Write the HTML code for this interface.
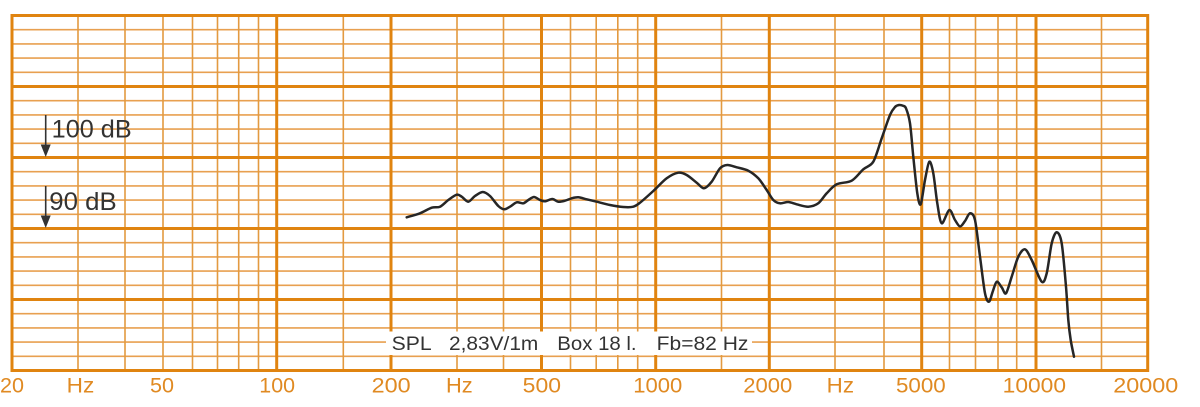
<!DOCTYPE html>
<html>
<head>
<meta charset="utf-8">
<style>
html,body{margin:0;padding:0;background:#fff;}
svg{display:block;}
text{font-family:"Liberation Sans",Arial,sans-serif;}
</style>
</head>
<body>
<svg id="chart" width="1200" height="407" viewBox="0 0 1200 407" xmlns="http://www.w3.org/2000/svg">
<rect x="0" y="0" width="1200" height="407" fill="#fff"/>
<!-- thin horizontal lines -->
<g stroke="#e8a050" stroke-width="1.6" fill="none">
<line x1="12" x2="1148" y1="29.7" y2="29.7"/>
<line x1="12" x2="1148" y1="43.9" y2="43.9"/>
<line x1="12" x2="1148" y1="58.1" y2="58.1"/>
<line x1="12" x2="1148" y1="72.3" y2="72.3"/>
<line x1="12" x2="1148" y1="100.7" y2="100.7"/>
<line x1="12" x2="1148" y1="114.9" y2="114.9"/>
<line x1="12" x2="1148" y1="129.1" y2="129.1"/>
<line x1="12" x2="1148" y1="143.3" y2="143.3"/>
<line x1="12" x2="1148" y1="171.7" y2="171.7"/>
<line x1="12" x2="1148" y1="185.9" y2="185.9"/>
<line x1="12" x2="1148" y1="200.1" y2="200.1"/>
<line x1="12" x2="1148" y1="214.3" y2="214.3"/>
<line x1="12" x2="1148" y1="242.7" y2="242.7"/>
<line x1="12" x2="1148" y1="256.9" y2="256.9"/>
<line x1="12" x2="1148" y1="271.1" y2="271.1"/>
<line x1="12" x2="1148" y1="285.3" y2="285.3"/>
<line x1="12" x2="1148" y1="313.7" y2="313.7"/>
<line x1="12" x2="1148" y1="327.9" y2="327.9"/>
<line x1="12" x2="1148" y1="342.1" y2="342.1"/>
<line x1="12" x2="1148" y1="356.3" y2="356.3"/>
</g>
<!-- thin vertical lines -->
<g stroke="#e39a40" stroke-width="1.6" fill="none">
<line y1="15.5" y2="370.5" x1="78" x2="78"/>
<line y1="15.5" y2="370.5" x1="125" x2="125"/>
<line y1="15.5" y2="370.5" x1="163" x2="163"/>
<line y1="15.5" y2="370.5" x1="192.5" x2="192.5"/>
<line y1="15.5" y2="370.5" x1="217.5" x2="217.5"/>
<line y1="15.5" y2="370.5" x1="238.7" x2="238.7"/>
<line y1="15.5" y2="370.5" x1="258.5" x2="258.5"/>
<line y1="15.5" y2="370.5" x1="343.3" x2="343.3"/>
<line y1="15.5" y2="370.5" x1="457" x2="457"/>
<line y1="15.5" y2="370.5" x1="503.5" x2="503.5"/>
<line y1="15.5" y2="370.5" x1="570.5" x2="570.5"/>
<line y1="15.5" y2="370.5" x1="596.2" x2="596.2"/>
<line y1="15.5" y2="370.5" x1="617.8" x2="617.8"/>
<line y1="15.5" y2="370.5" x1="637.7" x2="637.7"/>
<line y1="15.5" y2="370.5" x1="721.5" x2="721.5"/>
<line y1="15.5" y2="370.5" x1="835" x2="835"/>
<line y1="15.5" y2="370.5" x1="884" x2="884"/>
<line y1="15.5" y2="370.5" x1="949.5" x2="949.5"/>
<line y1="15.5" y2="370.5" x1="975.5" x2="975.5"/>
<line y1="15.5" y2="370.5" x1="998" x2="998"/>
<line y1="15.5" y2="370.5" x1="1016.7" x2="1016.7"/>
<line y1="15.5" y2="370.5" x1="1101.5" x2="1101.5"/>
</g>
<!-- thick lines -->
<g stroke="#e08410" stroke-width="3" fill="none">
<line x1="12" x2="1148" y1="86.5" y2="86.5"/>
<line x1="12" x2="1148" y1="157.5" y2="157.5"/>
<line x1="12" x2="1148" y1="228.5" y2="228.5"/>
<line x1="12" x2="1148" y1="299.5" y2="299.5"/>
<line y1="15.5" y2="370.5" x1="276.7" x2="276.7"/>
<line y1="15.5" y2="370.5" x1="391" x2="391"/>
<line y1="15.5" y2="370.5" x1="541.5" x2="541.5"/>
<line y1="15.5" y2="370.5" x1="655.7" x2="655.7"/>
<line y1="15.5" y2="370.5" x1="769.3" x2="769.3"/>
<line y1="15.5" y2="370.5" x1="921.7" x2="921.7"/>
<line y1="15.5" y2="370.5" x1="1036" x2="1036"/>
<rect x="12" y="15.5" width="1135.7" height="355" />
</g>
<!-- legend box -->
<rect x="386" y="331.5" width="366" height="23.5" fill="#fff"/>
<g fill="#333" font-size="19">
<text x="391.7" y="350" textLength="40" lengthAdjust="spacingAndGlyphs">SPL</text>
<text x="449" y="350" textLength="89.3" lengthAdjust="spacingAndGlyphs">2,83V/1m</text>
<text x="557.3" y="350" textLength="79.3" lengthAdjust="spacingAndGlyphs">Box 18 l.</text>
<text x="656.7" y="350" textLength="91.7" lengthAdjust="spacingAndGlyphs">Fb=82 Hz</text>
</g>
<!-- curve -->
<polyline id="curve" fill="none" stroke="#262626" stroke-width="2.5" stroke-linejoin="round" stroke-linecap="round"
points="406.7,217.3 420,213.3 431.7,207.7 440,206.7 448.3,200 456.7,194.7 461.7,196.7 468.3,201.7 475,196 482.7,192 490,196 498.3,206 504.3,209.3 510,206.7 516.7,202.3 523.3,203.3 528.3,200 534,197 540,200 545,201.3 552.3,199 558.3,201.7 565,200.7 571.7,198.3 578.3,197.3 586.7,199.3 596.7,201.7 610,205 623.3,207 633.3,206.7 640,202.7 653.3,191 666.7,178.3 678.3,172.7 686.7,175 696.7,182.7 704,188.3 711.7,181.7 720,168.3 727.3,165 736.7,167.3 748.3,170.7 758.3,178.3 766.7,190 773.3,200 780,203.3 788.3,202 796.7,204.3 808.3,206.7 818.3,203.3 826.7,193.3 836.7,184.3 851.7,180.7 863.3,169.3 873.3,161.7 881.7,138.3 890,115 895,107 899,105 903,105.8 906,108.3 910,123.3 913.3,156.7 917.3,193.3 920.7,204.3 925,180 929.3,161.7 933.3,173.3 937.3,203.3 941.7,223.3 949.3,210 955,220 960,226.5 965,221 970,213.3 975,220 980,256.7 985,293.3 989,301.7 992.7,291.7 996.7,281.7 1001.7,287.3 1006,293.3 1011.7,276.7 1018.3,256.7 1025,249.3 1031.7,260 1041.7,281.7 1046.7,273.3 1051.7,243.3 1056.7,232.3 1061.7,243.3 1066,286.7 1068.3,320 1070.7,340 1074,356.7"/>
<!-- dB labels -->
<g fill="#333" stroke="none">
<line x1="45.7" y1="115" x2="45.7" y2="147" stroke="#333" stroke-width="1.6"/>
<polygon points="40.7,144.5 50.7,144.5 45.7,157"/>
<line x1="45.7" y1="186" x2="45.7" y2="218" stroke="#333" stroke-width="1.6"/>
<polygon points="40.7,215.5 50.7,215.5 45.7,228"/>
<text x="51.7" y="137.7" font-size="25" textLength="80" lengthAdjust="spacingAndGlyphs">100 dB</text>
<text x="49.3" y="210" font-size="25" textLength="67.4" lengthAdjust="spacingAndGlyphs">90 dB</text>
</g>
<!-- axis labels -->
<g fill="#e08a22" font-size="21">
<text x="0" y="392.7" textLength="24" lengthAdjust="spacingAndGlyphs">20</text>
<text x="66.7" y="392.7" textLength="27.6" lengthAdjust="spacingAndGlyphs">Hz</text>
<text x="150" y="392.7" textLength="24" lengthAdjust="spacingAndGlyphs">50</text>
<text x="259.3" y="392.7" textLength="35.7" lengthAdjust="spacingAndGlyphs">100</text>
<text x="371.7" y="392.7" textLength="39" lengthAdjust="spacingAndGlyphs">200</text>
<text x="446" y="392.7" textLength="26.7" lengthAdjust="spacingAndGlyphs">Hz</text>
<text x="522.7" y="392.7" textLength="38.3" lengthAdjust="spacingAndGlyphs">500</text>
<text x="633.3" y="392.7" textLength="49" lengthAdjust="spacingAndGlyphs">1000</text>
<text x="743.3" y="392.7" textLength="49" lengthAdjust="spacingAndGlyphs">2000</text>
<text x="826.7" y="392.7" textLength="27.3" lengthAdjust="spacingAndGlyphs">Hz</text>
<text x="896" y="392.7" textLength="49.7" lengthAdjust="spacingAndGlyphs">5000</text>
<text x="1002.7" y="392.7" textLength="63.3" lengthAdjust="spacingAndGlyphs">10000</text>
<text x="1113.3" y="392.7" textLength="65" lengthAdjust="spacingAndGlyphs">20000</text>
</g>
</svg>
<script>
(function(){
  try{
    var pl=document.getElementById('curve');
    var pts=pl.getAttribute('points').trim().split(/\s+/).map(function(s){var a=s.split(',');return [parseFloat(a[0]),parseFloat(a[1])];});
    var d='M'+pts[0][0]+','+pts[0][1];
    for(var i=0;i<pts.length-1;i++){
      var p0=pts[i>0?i-1:0],p1=pts[i],p2=pts[i+1],p3=pts[i+2<pts.length?i+2:i+1];
      var t=0.9;
      var c1x=p1[0]+(p2[0]-p0[0])/6*t,c1y=p1[1]+(p2[1]-p0[1])/6*t;
      var c2x=p2[0]-(p3[0]-p1[0])/6*t,c2y=p2[1]-(p3[1]-p1[1])/6*t;
      d+=' C'+c1x.toFixed(2)+','+c1y.toFixed(2)+' '+c2x.toFixed(2)+','+c2y.toFixed(2)+' '+p2[0]+','+p2[1];
    }
    var ns='http://www.w3.org/2000/svg';
    var path=document.createElementNS(ns,'path');
    path.setAttribute('d',d);
    path.setAttribute('fill','none');
    path.setAttribute('stroke','#262626');
    path.setAttribute('stroke-width','2.5');
    path.setAttribute('stroke-linejoin','round');
    path.setAttribute('stroke-linecap','round');
    pl.parentNode.replaceChild(path,pl);
  }catch(e){}
})();
</script>
</body>
</html>
